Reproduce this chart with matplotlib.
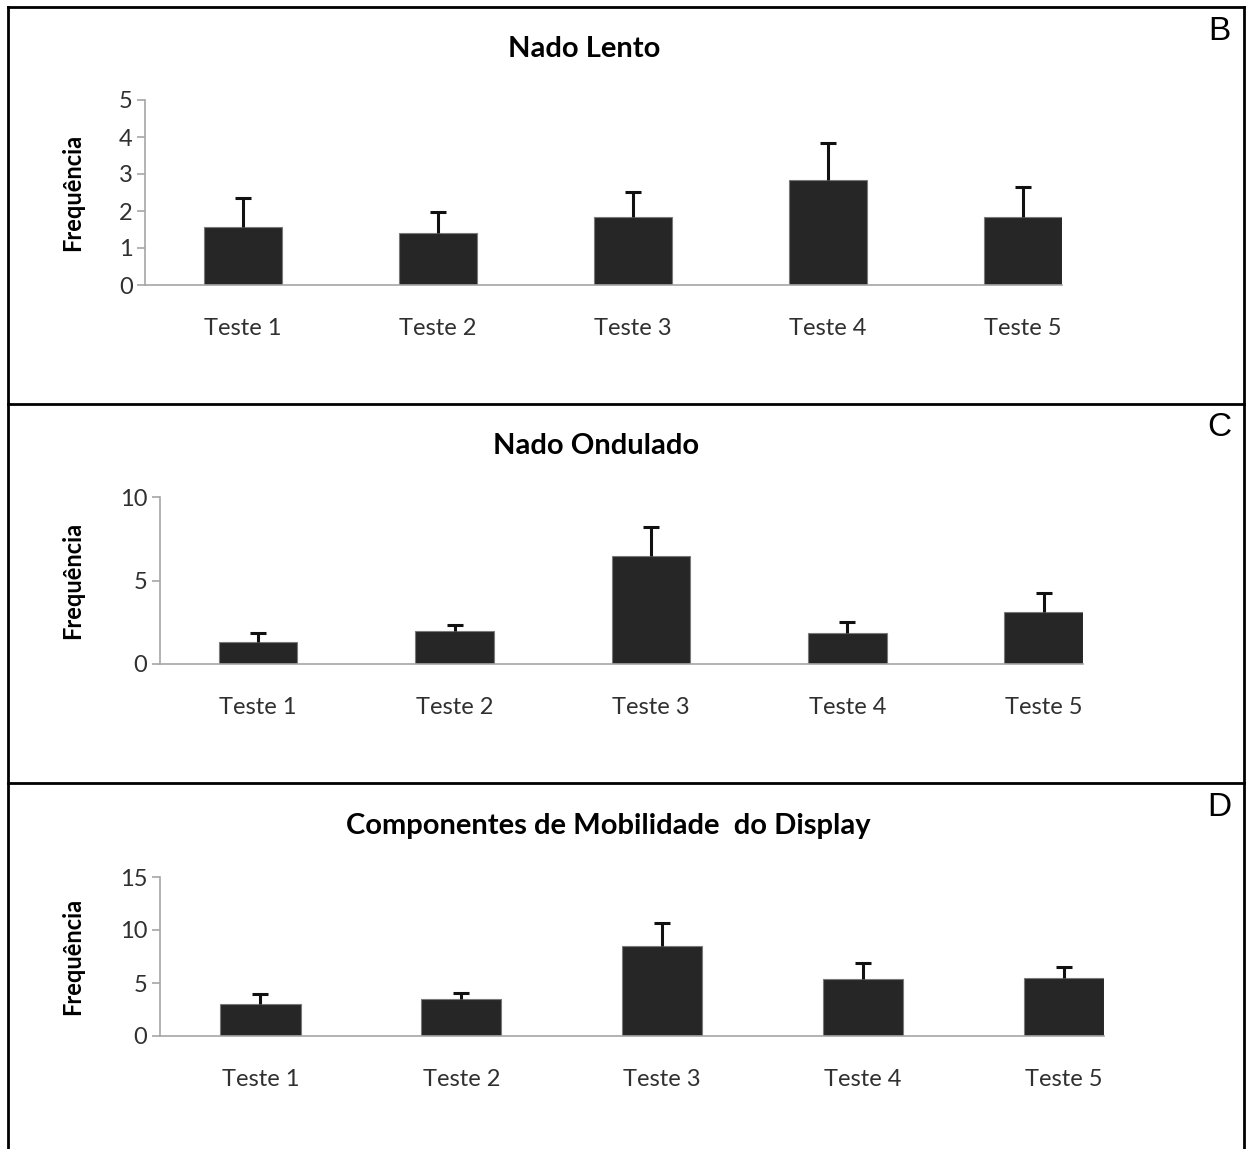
import matplotlib.pyplot as plt
from matplotlib.lines import Line2D
import numpy as np

plt.rcParams['font.family'] = ['Lato', 'DejaVu Sans']

testes = ['Teste 1', 'Teste 2', 'Teste 3', 'Teste 4', 'Teste 5']

nado_lento = [1.57, 1.41, 1.84, 2.84, 1.85]
nado_lento_ep = [0.78, 0.56, 0.67, 0.99, 0.81]

nado_ondulado = [1.32, 1.99, 6.47, 1.84, 3.13]
nado_ondulado_ep = [0.54, 0.34, 1.72, 0.66, 1.14]

componentes = [3.02, 3.46, 8.52, 5.38, 5.47]
componentes_ep = [0.94, 0.62, 2.11, 1.48, 1.07]

W, H = 1249, 1149
fig = plt.figure(figsize=(W / 100, H / 100), dpi=100)


def px_axes(x0, x1, ytop, ybot):
    # axes placed by pixel box (origin at top left)
    return fig.add_axes([x0 / W, 1 - ybot / H, (x1 - x0) / W, (ybot - ytop) / H])


def painel(ax, valores, erros, ymax, passo):
    x = np.arange(len(testes))
    ax.bar(x, valores, width=0.4, color='#262626', edgecolor='#7a7a7a', linewidth=0.8, zorder=2)
    _, caps, _ = ax.errorbar(x, valores, yerr=[np.zeros(len(erros)), erros], fmt='none',
                             ecolor='#111111', elinewidth=2.2, capsize=6, capthick=2.2, zorder=3)
    # only the upper cap is wanted
    for c in caps:
        if np.allclose(c.get_ydata(), valores):
            c.set_visible(False)
    ax.set_xlim(-0.5, len(testes) - 0.8)
    ax.set_ylim(0, ymax)
    ax.set_yticks(np.arange(0, ymax + passo, passo))
    ax.set_xticks(x)
    ax.set_xticklabels(testes)
    for s in ['top', 'right']:
        ax.spines[s].set_visible(False)
    for s in ['left', 'bottom']:
        ax.spines[s].set_color('#a6a6a6')
        ax.spines[s].set_linewidth(1.2)
    ax.tick_params(axis='x', length=0, pad=24, labelsize=17, labelcolor='#303030')
    ax.tick_params(axis='y', length=6, width=1.2, color='#a6a6a6', pad=3,
                   labelsize=17, labelcolor='#303030')
    ax.set_ylabel('Frequência', fontsize=17, fontweight='bold')
    pos = ax.get_position()
    ax.yaxis.set_label_coords(-(pos.x0 * W - 84) / (pos.width * W), 0.5)
    ax.patch.set_alpha(0)


ax1 = px_axes(145, 1062, 100, 285)
painel(ax1, nado_lento, nado_lento_ep, 5, 1)

ax2 = px_axes(160, 1083, 497, 664)
painel(ax2, nado_ondulado, nado_ondulado_ep, 10, 5)

ax3 = px_axes(160, 1104, 877, 1036)
painel(ax3, componentes, componentes_ep, 15, 5)

for titulo, x, y in [('Nado Lento', 584, 49), ('Nado Ondulado', 596, 446),
                     ('Componentes de Mobilidade  do Display', 608, 826)]:
    fig.text(x / W, 1 - y / H, titulo, fontsize=21, fontweight='bold',
             ha='center', va='center')


# frame and separators around the three panels
def linha(x0, y0, x1, y1):
    fig.add_artist(Line2D([x0 / W, x1 / W], [1 - y0 / H, 1 - y1 / H],
                          transform=fig.transFigure, color='black', linewidth=2))


linha(8, 7, 1244, 7)
linha(8, 7, 8, H)
linha(1244, 7, 1244, H)
linha(8, 404, 1244, 404)
linha(8, 783, 1244, 783)

for letra, y in [('B', 31), ('C', 428), ('D', 807)]:
    fig.text(1219 / W, 1 - y / H, letra, fontsize=24, family='Liberation Sans',
             ha='center', va='center')

fig.savefig('out.png', dpi=100)
